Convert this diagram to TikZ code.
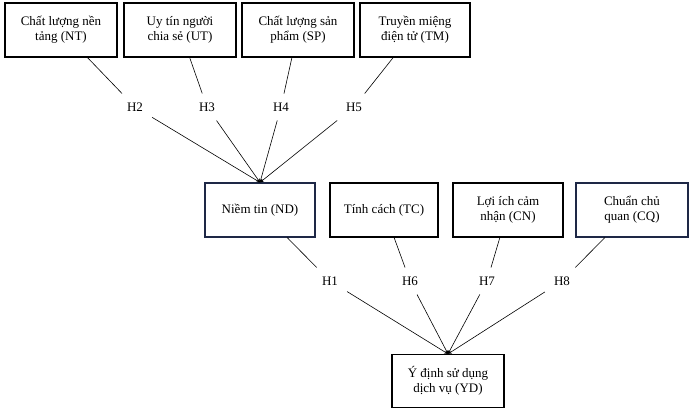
\documentclass[tikz,border=0pt]{standalone}
\usepackage{fontspec}
\setmainfont{Liberation Serif}
\begin{document}
\begin{tikzpicture}[x=1pt,y=-1pt,
 box/.style={draw=black,line width=1.2pt,minimum width=112pt,minimum height=54pt,align=center,inner sep=2pt,font=\fontsize{13}{15}\selectfont},
 nbox/.style={box,draw={rgb,255:red,30;green,40;blue,70}},
 lab/.style={inner sep=9pt,font=\fontsize{13}{15}\selectfont},
 arr/.style={->,>=stealth,line width=0.6pt},
 ln/.style={line width=0.6pt}]
\useasboundingbox (0,0) rectangle (693,420);
\node[box] (NT) at (61,30) {Chất lượng nền\\tảng (NT)};
\node[box] (UT) at (180,30) {Uy tín người\\chia sẻ (UT)};
\node[box] (SP) at (298,30) {Chất lượng sản\\phẩm (SP)};
\node[box,minimum width=110pt] (TM) at (415,30) {Truyền miệng\\điện tử (TM)};
\node[nbox,minimum width=110pt] (ND) at (260,210) {Niềm tin (ND)};
\node[box,minimum width=108pt] (TC) at (384,210) {Tính cách (TC)};
\node[box,minimum width=110pt] (CN) at (508,210) {Lợi ích cảm\\nhận (CN)};
\node[nbox] (CQ) at (632,210) {Chuẩn chủ\\quan (CQ)};
\node[box,minimum height=53pt] (YD) at (448,381) {Ý định sử dụng\\dịch vụ (YD)};
\node[lab] (H2) at (135,107) {H2};
\node[lab] (H3) at (207,107) {H3};
\node[lab] (H4) at (281,107) {H4};
\node[lab] (H5) at (354,107) {H5};
\node[lab] (H1) at (330,281) {H1};
\node[lab] (H6) at (410,281) {H6};
\node[lab] (H7) at (487,281) {H7};
\node[lab] (H8) at (562,281) {H8};
\foreach \a/\h in {NT/H2,UT/H3,SP/H4,TM/H5}{
 \draw[ln] (\a) -- (\h); \draw[arr] (\h) -- (ND.north);}
\foreach \a/\h in {ND/H1,TC/H6,CN/H7,CQ/H8}{
 \draw[ln] (\a) -- (\h); \draw[arr] (\h) -- (YD.north);}
\end{tikzpicture}
\end{document}
